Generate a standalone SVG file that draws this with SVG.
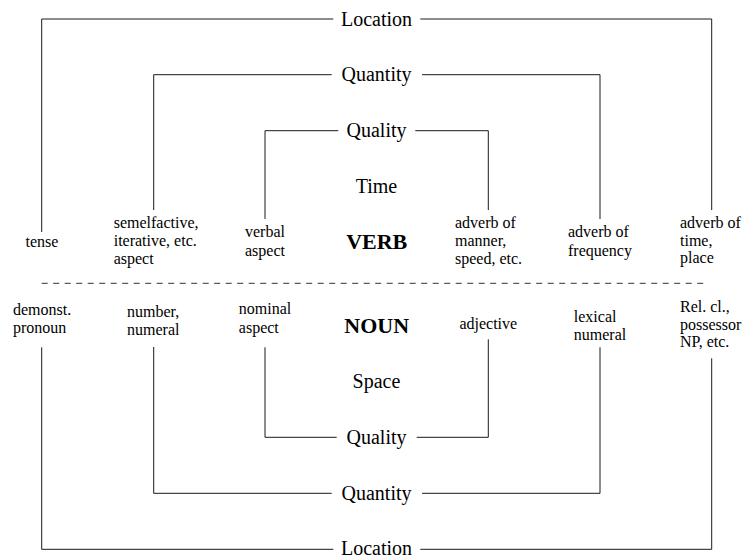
<svg xmlns="http://www.w3.org/2000/svg" width="744" height="556" viewBox="0 0 744 556">
<style>
text{font-family:"Liberation Serif","Times New Roman",serif;fill:#000}
.lg{font-size:20px;text-anchor:middle}
.bd{font-size:22px;font-weight:bold;text-anchor:middle}
.sm{font-size:16px}
.c{text-anchor:middle}
.ln{fill:none;stroke:#1a1a1a;stroke-width:1}
.dash{fill:none;stroke:#333;stroke-width:1;stroke-dasharray:6 5.5}
</style>
<rect width="744" height="556" fill="#fff"/>
<g id="connectors">
<polyline class="ln" points="41.7,232 41.7,19 333.3,19"/>
<polyline class="ln" points="420.3,19 711.7,19 711.7,210"/>
<polyline class="ln" points="153.7,210 153.7,74.7 331.7,74.7"/>
<polyline class="ln" points="422,74.7 600,74.7 600,219"/>
<polyline class="ln" points="265,219 265,130.7 338.3,130.7"/>
<polyline class="ln" points="415.3,130.7 488.3,130.7 488.3,210"/>
<line class="dash" x1="41.7" y1="283.3" x2="705.3" y2="283.3"/>
<polyline class="ln" points="265,347.3 265,437.3 336.7,437.3"/>
<polyline class="ln" points="416.7,437.3 488.3,437.3 488.3,339.3"/>
<polyline class="ln" points="153.7,347 153.7,493.3 331.7,493.3"/>
<polyline class="ln" points="422,493.3 600,493.3 600,347.3"/>
<polyline class="ln" points="41.7,347.3 41.7,549.3 333.3,549.3"/>
<polyline class="ln" points="420.3,549.3 711.7,549.3 711.7,358.3"/>
</g>
<g id="location-top"><text class="lg" x="376.5" y="25.9">Location</text></g>
<g id="quantity-top"><text class="lg" x="376.5" y="81.3">Quantity</text></g>
<g id="quality-top"><text class="lg" x="376.5" y="137.3">Quality</text></g>
<g id="time"><text class="lg" x="376.5" y="193.3">Time</text></g>
<g id="verb"><text class="bd" x="376.7" y="249.3">VERB</text></g>
<g id="tense"><text class="sm c" x="42" y="246.5">tense</text></g>
<g id="semelfactive"><text class="sm" x="113.7" y="228.3">semelfactive,</text><text class="sm" x="113.7" y="246.4">iterative, etc.</text><text class="sm" x="113.7" y="264.4">aspect</text></g>
<g id="verbal-aspect"><text class="sm" x="245" y="237.3">verbal</text><text class="sm" x="245" y="255.5">aspect</text></g>
<g id="adverb-manner"><text class="sm" x="455" y="228.3">adverb of</text><text class="sm" x="455" y="246.4">manner,</text><text class="sm" x="455" y="264.4">speed, etc.</text></g>
<g id="adverb-frequency"><text class="sm" x="568" y="237.3">adverb of</text><text class="sm" x="568" y="255.5">frequency</text></g>
<g id="adverb-time"><text class="sm" x="680" y="228">adverb of</text><text class="sm" x="680" y="245.7">time,</text><text class="sm" x="680" y="263.2">place</text></g>
<g id="demonst"><text class="sm" x="13" y="314.7">demonst.</text><text class="sm" x="13" y="333">pronoun</text></g>
<g id="number"><text class="sm" x="127" y="316.5">number,</text><text class="sm" x="127" y="335">numeral</text></g>
<g id="nominal-aspect"><text class="sm" x="238.8" y="314">nominal</text><text class="sm" x="238.8" y="332.5">aspect</text></g>
<g id="noun"><text class="bd" x="376.7" y="332.7">NOUN</text></g>
<g id="adjective"><text class="sm c" x="488.3" y="329.3">adjective</text></g>
<g id="lexical-numeral"><text class="sm" x="573.8" y="321.7">lexical</text><text class="sm" x="573.8" y="340">numeral</text></g>
<g id="relcl"><text class="sm" x="680" y="312.3">Rel. cl.,</text><text class="sm" x="680" y="329.8">possessor</text><text class="sm" x="680" y="347">NP, etc.</text></g>
<g id="space"><text class="lg" x="376.5" y="387.5">Space</text></g>
<g id="quality-bottom"><text class="lg" x="376.5" y="443.9">Quality</text></g>
<g id="quantity-bottom"><text class="lg" x="376.5" y="499.9">Quantity</text></g>
<g id="location-bottom"><text class="lg" x="376.5" y="555">Location</text></g>
</svg>
